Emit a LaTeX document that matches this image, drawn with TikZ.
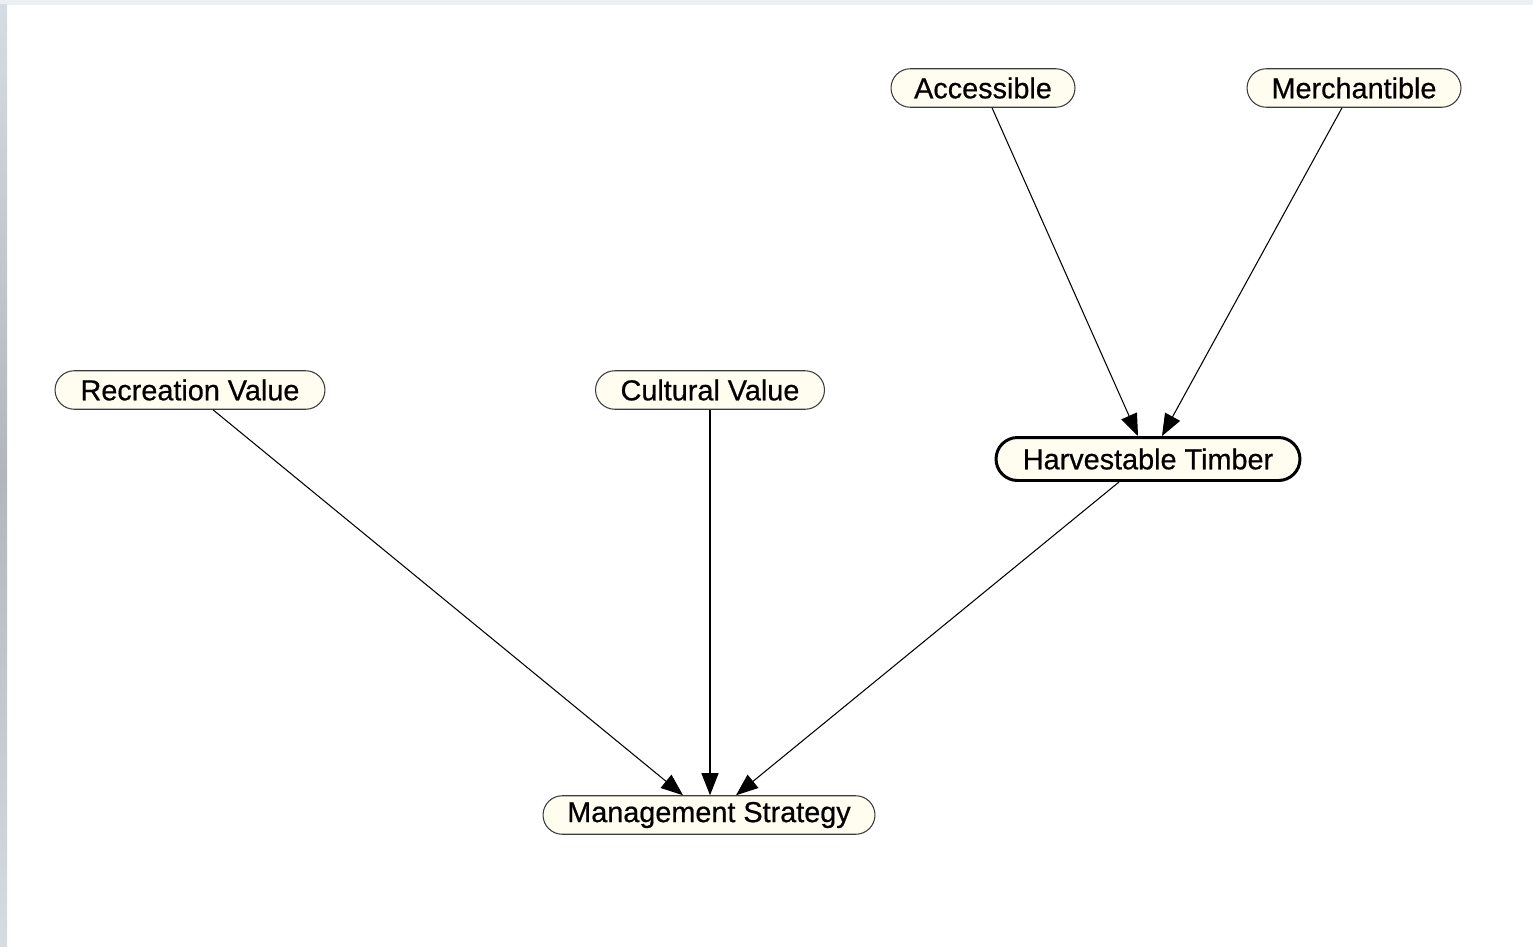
\documentclass[tikz,border=0pt]{standalone}
\usepackage{fontspec}
\setmainfont{Liberation Sans}
\newfontfamily\labelfont[FakeBold=0.6]{Liberation Sans}
\usetikzlibrary{arrows.meta,shapes.misc}
\definecolor{nodefill}{RGB}{255,252,240}
\definecolor{nodeline}{RGB}{60,60,60}
\definecolor{topband}{RGB}{236,239,243}
\definecolor{sideA}{RGB}{214,220,228}
\definecolor{sideB}{RGB}{178,182,188}
\begin{document}
\begin{tikzpicture}[x=0.02cm,y=-0.02cm,
  var/.style={rounded rectangle, draw=nodeline, line width=0.6pt, fill=nodefill,
    inner sep=0pt, minimum height=0.77cm, text=black,
    font=\labelfont\fontsize{16.4}{19}\selectfont},
  keyvar/.style={var, draw=black, line width=1.7pt, minimum height=0.86cm},
  link/.style={draw=black, line width=0.6pt,
    -{Triangle[length=0.44cm,width=0.34cm]}}]
  % canvas and window edges
  \useasboundingbox (0,0) rectangle (1533,946);
  \fill[white] (0,0) rectangle (1533,946);
  \fill[topband] (0,0) rectangle (1533,5);
  \shade[top color=sideA, bottom color=sideA, middle color=sideB] (0,5) rectangle (7,946);

  % variables
  \node[var, minimum width=3.68cm] (acc) at (983,88) {Accessible};
  \node[var, minimum width=4.28cm] (mer) at (1354,88) {Merchantible};
  \node[var, minimum width=5.40cm] (rec) at (190,390) {Recreation Value};
  \node[var, minimum width=4.58cm] (cul) at (710,390) {Cultural Value};
  \node[keyvar, minimum width=6.08cm] (har) at (1148,459) {Harvestable Timber};
  \node[var, minimum width=6.64cm] (man) at (709,815) {Management Strategy};

  % dependencies
  \draw[link] ([xshift=0.18cm]acc.south) -- ([xshift=-0.20cm]har.north);
  \draw[link] ([xshift=-0.24cm]mer.south) -- ([xshift=0.28cm]har.north);
  \draw[link] ([xshift=0.46cm]rec.south) -- ([xshift=-0.52cm]man.north);
  \draw[link] (cul.south) -- (cul.south |- man.north);
  \draw[link] ([xshift=-0.58cm]har.south) -- ([xshift=0.54cm]man.north);
\end{tikzpicture}
\end{document}
